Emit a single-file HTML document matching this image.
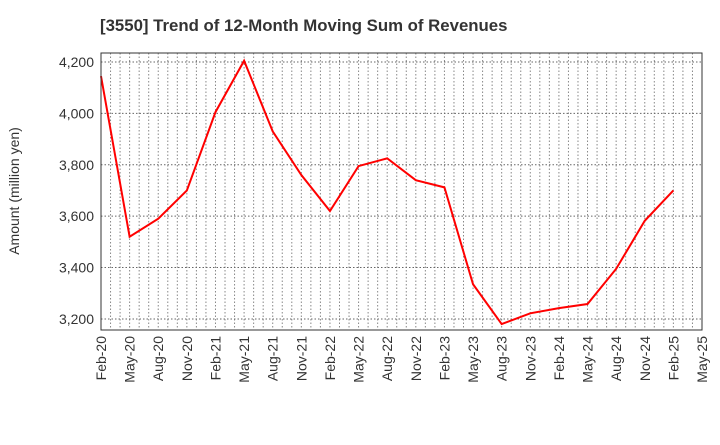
<!DOCTYPE html>
<html><head><meta charset="utf-8"><style>
body{margin:0;background:#fff;font-family:"Liberation Sans",sans-serif}
</style></head><body>
<svg width="720" height="440" xmlns="http://www.w3.org/2000/svg">
<text x="100" y="31" font-size="16.8" font-weight="bold" fill="#333">[3550]  Trend of 12-Month Moving Sum of Revenues</text>
<text transform="translate(19,191) rotate(-90)" text-anchor="middle" font-size="14" fill="#333">Amount (million yen)</text>
<g id="grid"></g>
<g id="axes"></g>
<polyline id="line" fill="none" stroke="#f00" stroke-width="2"/>
<rect x="101" y="53" width="601" height="277" fill="none" stroke="#333"/>
</svg>
<script>
const categories=["Feb-20","May-20","Aug-20","Nov-20","Feb-21","May-21","Aug-21","Nov-21","Feb-22","May-22","Aug-22","Nov-22","Feb-23","May-23","Aug-23","Nov-23","Feb-24","May-24","Aug-24","Nov-24","Feb-25","May-25"];
const values=[4145,3520,3590,3700,4005,4205,3930,3760,3620,3795,3825,3740,3712,3335,3180,3222,3242,3258,3395,3582,3700];
const yTicks=[3200,3400,3600,3800,4000,4200];
const yTickLabels=["3,200","3,400","3,600","3,800","4,000","4,200"];
const L=101,R=702,T=53,B=330,yMin=3157,yMax=4235;
const NS="http://www.w3.org/2000/svg";
const nQ=categories.length-1;
function x(i){return L+(R-L)*i/nQ;}
function y(v){return B-(v-yMin)/(yMax-yMin)*(B-T);}
const grid=document.getElementById('grid'),axes=document.getElementById('axes');
for(let m=1;m<nQ*3;m++){const xx=L+(R-L)*m/(nQ*3);
const l=document.createElementNS(NS,'line');


l.setAttribute('x1',xx);l.setAttribute('x2',xx);l.setAttribute('y1',T);l.setAttribute('y2',B);
l.setAttribute('stroke','#888');l.setAttribute('stroke-dasharray','1.5,2');grid.appendChild(l);}
yTicks.forEach((v,i)=>{const yy=y(v);
const l=document.createElementNS(NS,'line');


l.setAttribute('x1',L);l.setAttribute('x2',R);l.setAttribute('y1',yy);l.setAttribute('y2',yy);
l.setAttribute('stroke','#666');l.setAttribute('stroke-dasharray','1.5,2');grid.appendChild(l);
const t=document.createElementNS(NS,'text');


t.setAttribute('x',L-7);t.setAttribute('y',yy+5);t.setAttribute('text-anchor','end');t.setAttribute('font-size','14');t.setAttribute('fill','#333');
t.textContent=yTickLabels[i];axes.appendChild(t);});
categories.forEach((c,i)=>{const t=document.createElementNS(NS,'text');


t.setAttribute('transform','translate('+(x(i)+5)+','+(B+6)+') rotate(-90)');
t.setAttribute('text-anchor','end');t.setAttribute('font-size','14');t.setAttribute('fill','#333');
t.textContent=c;axes.appendChild(t);});
document.getElementById('line').setAttribute('points',values.map((v,i)=>x(i)+','+y(v)).join(' '));
</script>
</body></html>
